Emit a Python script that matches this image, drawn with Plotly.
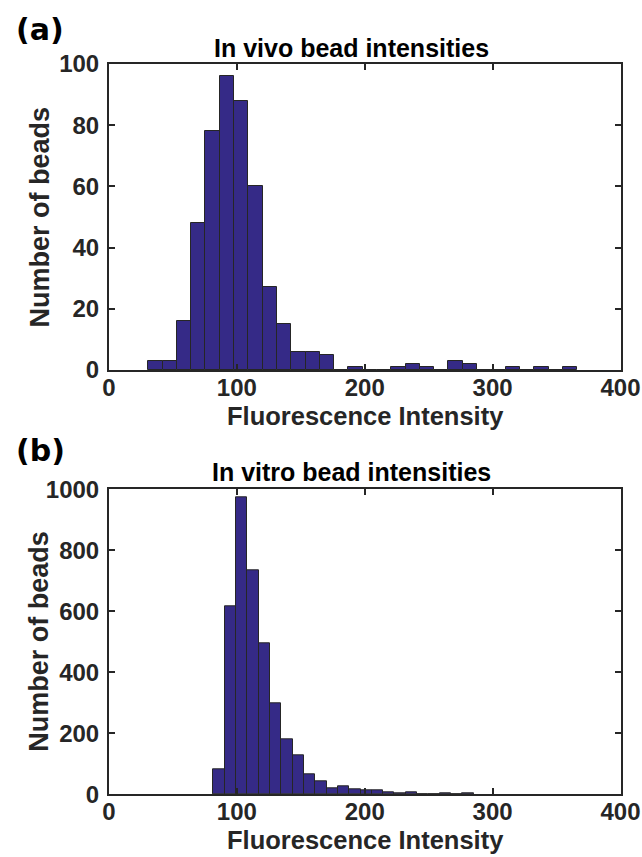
import plotly.graph_objects as go

# ---------------- data ----------------
# (a) In vivo: 30 histogram bins
vivo_bin_start = 30.7
vivo_bin_width = 11.18
vivo_counts = [3, 3, 16, 48, 78, 96, 88, 60, 27, 15, 6, 6, 5, 0, 1,
               0, 0, 1, 2, 1, 0, 3, 2, 0, 0, 1, 0, 1, 0, 1]

# (b) In vitro: histogram bins
vitro_bin_start = 81.5
vitro_bin_width = 8.86
vitro_counts = [83, 617, 973, 734, 496, 297, 180, 129, 66, 42, 20, 25, 16, 12, 12,
                5, 3, 8, 1, 0, 3, 0, 2]

x_ticks = [0, 100, 200, 300, 400]
vivo_y_ticks = [0, 20, 40, 60, 80, 100]
vitro_y_ticks = [0, 200, 400, 600, 800, 1000]

titles = ["In vivo bead intensities", "In vitro bead intensities"]
panel_labels = ["(a)", "(b)"]
x_title = "Fluorescence Intensity"
y_title = "Number of beads"

# ---------------- figure ----------------
W, H = 642, 857
BAR = "rgb(53,42,135)"
AX = "#262626"
FONT = "Liberation Sans, Arial, Helvetica, sans-serif"


def centers(start, width, n):
    return [start + width * (i + 0.5) for i in range(n)]


def px_x(p):
    return p / W


def px_y(p):
    return 1 - p / H


fig = go.Figure()
fig.add_trace(go.Bar(
    x=centers(vivo_bin_start, vivo_bin_width, len(vivo_counts)), y=vivo_counts,
    width=vivo_bin_width, marker=dict(color=BAR, line=dict(color=AX, width=1)),
    xaxis="x", yaxis="y", showlegend=False, hoverinfo="x+y"))
fig.add_trace(go.Bar(
    x=centers(vitro_bin_start, vitro_bin_width, len(vitro_counts)), y=vitro_counts,
    width=vitro_bin_width, marker=dict(color=BAR, line=dict(color=AX, width=1)),
    xaxis="x2", yaxis="y2", showlegend=False, hoverinfo="x+y"))

x_dom = [px_x(109), px_x(620.5)]
top_dom = [px_y(370), px_y(64)]
bot_dom = [px_y(794.3), px_y(489.3)]

axis_common = dict(
    showline=True, linecolor=AX, linewidth=2, mirror="ticks",
    ticks="inside", ticklen=6, tickwidth=2, tickcolor=AX,
    showgrid=False, zeroline=False, automargin=False,
    tickfont=dict(family=FONT, size=24, color=AX, weight="bold"),
)

fig.update_layout(
    template="none",
    width=W, height=H, margin=dict(l=0, r=0, t=0, b=0, autoexpand=False),
    paper_bgcolor="white", plot_bgcolor="white", bargap=0,
    xaxis=dict(domain=x_dom, anchor="y", range=[0, 400], tickvals=x_ticks,
               ticklabelstandoff=-5, **axis_common),
    yaxis=dict(domain=top_dom, anchor="x", range=[0, 100], tickvals=vivo_y_ticks,
               ticklabelstandoff=3, **axis_common),
    xaxis2=dict(domain=x_dom, anchor="y2", range=[0, 400], tickvals=x_ticks,
                ticklabelstandoff=-5, **axis_common),
    yaxis2=dict(domain=bot_dom, anchor="x2", range=[0, 1000], tickvals=vitro_y_ticks,
                ticklabelstandoff=3, **axis_common),
)

anns = []
offsets = [0, 424.3]
for i, off in enumerate(offsets):
    anns.append(dict(text=titles[i], x=px_x(351), y=px_y(48 + off), xref="paper", yref="paper",
                     xanchor="center", yanchor="middle", showarrow=False,
                     font=dict(family=FONT, size=25, color="black", weight="bold")))
    anns.append(dict(text=x_title, x=px_x(365.5), y=px_y(416 + off), xref="paper", yref="paper",
                     xanchor="center", yanchor="middle", showarrow=False,
                     font=dict(family=FONT, size=25.5, color=AX, weight="bold")))
    anns.append(dict(text=y_title, x=px_x(39.5), y=px_y(217 + off), xref="paper", yref="paper",
                     xanchor="center", yanchor="middle", showarrow=False, textangle=-90,
                     font=dict(family=FONT, size=27, color=AX, weight="bold")))
    anns.append(dict(text=panel_labels[i], x=px_x(14), y=px_y(29 + off - 2.5 * i), xref="paper", yref="paper",
                     xanchor="left", yanchor="middle", showarrow=False,
                     font=dict(family="DejaVu Sans", size=30, color="black", weight="bold")))
fig.update_layout(annotations=anns)

fig.write_html(
    "out.html",
    config={"displayModeBar": False},
    post_script="document.body.style.margin='0';document.body.style.overflow='hidden';",
)
